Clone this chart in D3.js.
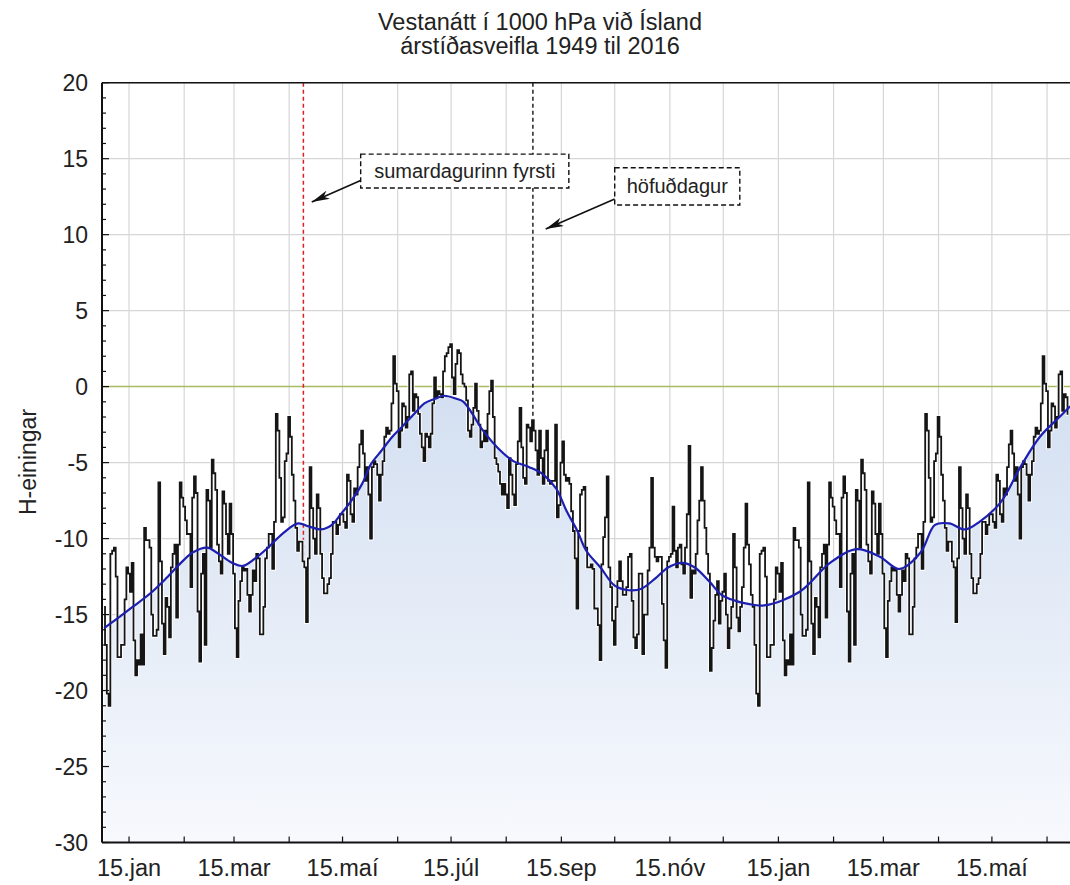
<!DOCTYPE html>
<html>
<head>
<meta charset="utf-8">
<script src="https://cdn.jsdelivr.net/npm/d3@7"></script>
<style>
  body { margin: 0; background: #fff; }
  svg { display: block; font-family: "Liberation Sans", Arial, sans-serif; }
</style>
</head>
<body>
<svg id="chart" width="1070" height="885"></svg>
<script>
// titles and labels
const titleLines = ["Vestanátt í 1000 hPa við Ísland", "árstíðasveifla 1949 til 2016"]
const yTitle = "H-einingar"
const monthNames = ["jan","feb","mar","apr","maí","jún","júl","ágú","sep","okt","nóv","des"]
const yTicks = [20, 15, 10, 5, 0, -5, -10, -15, -20, -25, -30]

// daily mean for one year (day 0 = 1. jan)
const dailyValues = [
  -14.5, -17, -20.2, -21, -11, -10.8, -10.6, -12.5, -17.8, -17.8,
  -17, -17, -14, -11.9, -12.3, -13.5, -11.6, -16.7, -19, -18,
  -18.3, -16.3, -18.3, -9.3, -10.1, -10.1, -10.6, -15, -16.4, -16.4,
  -16, -6.3, -11.5, -15.6, -17.6, -13.9, -14.5, -16.5, -11.9, -11,
  -10.4, -15.2, -10.4, -6.3, -7.3, -7.9, -8.8, -9.7, -9.7, -13.2,
  -7.3, -5.9, -7, -14.8, -18.1, -12.3, -11, -17, -6.8, -7.5,
  -10.6, -4.8, -5.7, -6.8, -10.4, -11.5, -12.3, -6.9, -7.7, -9.7,
  -11, -7.7, -9.7, -12.3, -15.9, -17.8, -14.1, -12.8, -11.9, -12.1,
  -12, -13.7, -14.8, -13.7, -12.1, -12.8, -11, -11.3, -16.3, -16.3,
  -14.5, -11.3, -10.6, -9.7,
  -9.7, -12, -8.9, -1.8, -2.9, -6, -8.9, -8.6, -4.9, -4.4,
  -2, -3.3, -5.8, -7.5, -9.3, -10.8, -10.2, -10.2, -11.5, -11.9,
  -15.5, -11.3, -5.3, -8, -10, -11, -7.1,
  -8, -11, -12.6, -13.6, -13.6, -13, -12.6, -11, -8.9, -8.9,
  -9.7, -9.1, -8.4, -8.4, -8.9, -9.3, -5.8, -6.2, -8.4, -8.9,
  -6.7, -7.1, -5.3, -3.8, -2.9, -4.4, -6.2, -5.3, -7.1, -10,
  -5.3, -4.9, -5.1, -5.8, -7.5, -5.8, -4.9, -3.3, -2.7, -3.1,
  -2.9, -1.1, 2, 0.2, -0.3, -4, -2.9, -1.1, -1.3, -2.7,
  -2, 0.8, 1, -1.6, -0.5, -0.7, -1.8, -3.1, -4, -4.9,
  -3.1, -3.3, -4, -3.1, -1.1,
  0.6, -0.7, -0.3, -0.5, -0.7, 1.0, 2.0, 2.2, 2.6, 2.8,
  0.6, -0.5, 1.5, 2.4, 2.2, 0.8, 0.2, 0, -0.9, -2.9,
  -3.3, -2.5, -1.4, 0.2, -1.6, -2.5, -4, -3.6, -2.9, -3.6,
  -1.8, -0.3, 0.4, -2, -4.7, -5.1, -5.6, -6.4, -7.1, -6.4,
  -7.1, -8, -4.7, -5.8, -7.1, -7.8, -5.1, -3.6, -1.4, -4,
  -6, -6.4, -2.5, -2.7, -3.6, -2.2, -2.9, -4.2, -5.8, -2.9,
  -4.7, -6.4, -4.2, -2.9, -6.2, -6.4, -6.2, -6.2, -2.5, -8.6,
  -7.8, -5, -3.6, -5.8, -6.2, -6, -6.4, -8.2, -9.5, -11.3,
  -14.6, -9.5, -7.1, -6.8, -6.6, -10.6, -11.9, -11.9, -11.7, -12,
  -14.6, -14.6, -15.7,
  -18, -11.7, -9.9, -8.6, -5.9, -11.9, -13.2, -15.4, -17, -14.5,
  -12.8, -11.5, -12.8, -13.7, -13.7, -13.2, -11.2, -11, -14.1, -16.5,
  -17.2, -16.3, -12.3, -12.3, -17.6, -15, -15, -12.1, -10.6, -6,
  -10.6, -11.2, -11.5, -11.2, -11.2, -14.3, -16.7, -18.5, -11.5, -11.2,
  -11, -7.9, -10.8, -11.9, -10.6, -10.4, -11.7, -12.3, -10.6, -8.4,
  -3.9, -13.9, -12.1, -12.3, -11, -8.8, -7.5, -5.3, -7.5, -9.3,
  -11, -12.3, -18.7, -17.2, -15.4, -13.7, -12.8, -15.6, -14.1, -13.5,
  -12.3, -15, -17.2, -15.9, -14.5, -9.7, -11.9, -15.2, -16.1, -14.5,
  -13.2, -10.6, -7.7, -10.4, -11.7, -13.7
]

// smoothed curve (blue), day index counted from 1. jan of the first year
const smoothDays = [0, 16, 26, 35, 44, 50, 58, 63, 72, 78, 86, 93, 100, 109, 115, 122, 128, 133, 139, 145,
  150, 156, 162, 167, 175, 180, 186, 191, 198, 202, 207, 213, 221, 230, 239, 247, 254, 260, 266, 271,
  279, 287, 295, 302, 310, 317, 325, 332, 340, 347, 355, 362, 371, 391, 408, 423, 436, 447, 459, 467,
  475, 484, 492, 504, 515, 526, 537, 543]
const smoothValues = [-15.9, -14.5, -13.6, -12.6, -11.5, -10.9, -10.6, -10.9, -11.6, -11.8, -11.2, -10.5, -9.7, -9.0, -9.2, -9.4, -9.1, -8.4, -7.5, -6.4,
  -5.1, -4.2, -3.3, -2.7, -1.7, -1.1, -0.8, -0.6, -0.8, -1.0, -1.8, -2.9, -4.0, -4.9, -5.3, -5.8, -6.7, -8.2, -9.5, -10.8,
  -11.9, -13.1, -13.4, -13.3, -12.6, -11.9, -11.6, -11.9, -12.8, -13.7, -14.1, -14.3, -14.4, -13.5, -11.6, -10.7, -11.2, -12.0, -10.9, -9.1,
  -9.0, -9.4, -8.9, -7.6, -5.3, -3.3, -2.0, -1.3]

// marked days: sumardagurinn fyrsti (23. apr) and höfuðdagur (29. ágú)
const markerDays = [112, 241]
const markerColors = ["#dd1f1f", "#222"]

// annotation boxes, in data units (day, value)
const notes = [
  {text: "sumardagurinn fyrsti", x0: 144.2, x1: 261.2, y0: 15.3, y1: 13.07, tail: [144.8, 13.6], tip: [116.7, 12.15]},
  {text: "höfuðdagur", x0: 287.0, x1: 357.3, y0: 14.4, y1: 11.95, tail: [287.0, 12.35], tip: [248.2, 10.37]}
]

const lastDay = 542
const base = new Date(2001, 0, 1)

const svg = d3.select("#chart")
const plotLeft = 102, plotRight = 1070, plotTop = 82.7, plotBottom = 842.5

const x = d3.scaleLinear().domain([-1.2, 542.9]).range([plotLeft, plotRight])
const y = d3.scaleLinear().domain([-30, 20]).range([plotBottom, plotTop])

// 15th of every month shown
const monthTicks = d3.timeMonth.range(new Date(2001, 0, 1), new Date(2002, 6, 1))
  .map(m => ({day: d3.timeDay.count(base, new Date(m.getFullYear(), m.getMonth(), 15)), month: m.getMonth()}))

// gradient for the fill under the smooth curve
const defs = svg.append("defs")
const grad = defs.append("linearGradient").attr("id", "fillGrad")
  .attr("gradientUnits", "userSpaceOnUse").attr("x1", 0).attr("x2", 0).attr("y1", y(0)).attr("y2", plotBottom)
grad.append("stop").attr("offset", 0).attr("stop-color", "#d3dff1")
grad.append("stop").attr("offset", 1).attr("stop-color", "#f7f9fd")

defs.append("marker").attr("id", "arrow").attr("viewBox", "0 0 18 9")
  .attr("refX", 18).attr("refY", 4.5).attr("markerWidth", 18).attr("markerHeight", 9)
  .attr("markerUnits", "userSpaceOnUse").attr("orient", "auto")
  .append("path").attr("d", "M0,0 L18,4.5 L0,9 L5,4.5 Z").attr("fill", "#111")

defs.append("clipPath").attr("id", "plotClip").append("rect")
  .attr("x", plotLeft).attr("y", plotTop).attr("width", plotRight - plotLeft).attr("height", plotBottom - plotTop)

// grid
const grid = svg.append("g")
grid.selectAll(".vg").data(monthTicks).enter().append("line")
  .attr("x1", d => x(d.day)).attr("x2", d => x(d.day)).attr("y1", plotTop).attr("y2", plotBottom)
  .attr("stroke", "#d6d6d6").attr("stroke-width", 1.2)
grid.selectAll(".hg").data(yTicks.filter(v => v !== 0)).enter().append("line")
  .attr("x1", plotLeft).attr("x2", plotRight).attr("y1", d => y(d)).attr("y2", d => y(d))
  .attr("stroke", "#d6d6d6").attr("stroke-width", 1.2)

const plot = svg.append("g").attr("clip-path", "url(#plotClip)")

// fill under the smooth curve
const smooth = smoothDays.map((d, i) => ({day: d, v: smoothValues[i]}))
plot.append("path").datum(smooth)
  .attr("d", d3.area().x(d => x(d.day)).y0(plotBottom).y1(d => y(d.v)).curve(d3.curveCatmullRom.alpha(0.5)))
  .attr("fill", "url(#fillGrad)")

// zero line
plot.append("line").attr("x1", plotLeft).attr("x2", plotRight).attr("y1", y(0)).attr("y2", y(0))
  .attr("stroke", "#a9bb5e").attr("stroke-width", 1.5)

// daily series repeated over 18 months
const series = d3.range(0, lastDay + 1).map(d => ({day: d, v: dailyValues[d % dailyValues.length]}))

// vertical marker lines down to the series value
plot.selectAll(".marker").data(markerDays).enter().append("line")
  .attr("x1", d => x(d)).attr("x2", d => x(d)).attr("y1", plotTop).attr("y2", d => y(dailyValues[d]))
  .attr("stroke", (d, i) => markerColors[i]).attr("stroke-width", 1.5).attr("stroke-dasharray", "4,3")

const stepLine = d3.line().x(d => x(d.day)).y(d => y(d.v)).curve(d3.curveStep)
plot.append("path").datum(series).attr("d", stepLine)
  .attr("fill", "none").attr("stroke", "#fff").attr("stroke-width", 3.6)
plot.append("path").datum(series).attr("d", stepLine)
  .attr("fill", "none").attr("stroke", "#151515").attr("stroke-width", 1.8)

// smooth curve
plot.append("path").datum(smooth)
  .attr("d", d3.line().x(d => x(d.day)).y(d => y(d.v)).curve(d3.curveCatmullRom.alpha(0.5)))
  .attr("fill", "none").attr("stroke", "#1c1fb0").attr("stroke-width", 2.2)

// annotations
notes.forEach(n => {
  svg.append("line")
    .attr("x1", x(n.tail[0])).attr("y1", y(n.tail[1])).attr("x2", x(n.tip[0])).attr("y2", y(n.tip[1]))
    .attr("stroke", "#111").attr("stroke-width", 1.6).attr("marker-end", "url(#arrow)")
  svg.append("rect")
    .attr("x", x(n.x0)).attr("y", y(n.y0)).attr("width", x(n.x1) - x(n.x0)).attr("height", y(n.y1) - y(n.y0))
    .attr("fill", "#fff").attr("stroke", "#111").attr("stroke-width", 1.4).attr("stroke-dasharray", "5,3")
  svg.append("text")
    .attr("x", (x(n.x0) + x(n.x1)) / 2).attr("y", (y(n.y0) + y(n.y1)) / 2).attr("dy", "0.35em")
    .attr("text-anchor", "middle").attr("font-size", 20).attr("fill", "#222").text(n.text)
})

// axes frame
svg.append("line").attr("x1", plotLeft).attr("x2", plotRight).attr("y1", plotTop).attr("y2", plotTop)
  .attr("stroke", "#111").attr("stroke-width", 1.5)
svg.append("line").attr("x1", plotLeft).attr("x2", plotLeft).attr("y1", plotTop).attr("y2", plotBottom)
  .attr("stroke", "#111").attr("stroke-width", 2)
svg.append("line").attr("x1", plotLeft).attr("x2", plotRight).attr("y1", plotBottom).attr("y2", plotBottom)
  .attr("stroke", "#111").attr("stroke-width", 2)

// y ticks (inward), minor every 1
svg.selectAll(".ymin").data(d3.range(-30, 21)).enter().append("line")
  .attr("x1", plotLeft).attr("x2", d => plotLeft + (d % 5 === 0 ? 7 : 4))
  .attr("y1", d => y(d)).attr("y2", d => y(d)).attr("stroke", "#111").attr("stroke-width", 1.2)
svg.selectAll(".ylab").data(yTicks).enter().append("text")
  .attr("x", plotLeft - 14).attr("y", d => y(d)).attr("dy", "0.35em").attr("text-anchor", "end")
  .attr("font-size", 23).attr("fill", "#222").text(d => d)

// x ticks (inward) and labels on odd months
svg.selectAll(".xt").data(monthTicks).enter().append("line")
  .attr("x1", d => x(d.day)).attr("x2", d => x(d.day)).attr("y1", plotBottom).attr("y2", plotBottom - 6)
  .attr("stroke", "#111").attr("stroke-width", 1.2)
svg.selectAll(".xlab").data(monthTicks.filter(d => d.month % 2 === 0)).enter().append("text")
  .attr("x", d => x(d.day)).attr("y", 876).attr("text-anchor", "middle")
  .attr("font-size", 23.5).attr("fill", "#222").text(d => "15." + monthNames[d.month])

// titles
svg.selectAll(".title").data(titleLines).enter().append("text")
  .attr("x", 540).attr("y", (d, i) => 30 + i * 24).attr("text-anchor", "middle")
  .attr("font-size", 23.5).attr("fill", "#222").text(d => d)
svg.append("text").attr("transform", `translate(36,462) rotate(-90)`)
  .attr("text-anchor", "middle").attr("font-size", 23).attr("fill", "#222").text(yTitle)
</script>
</body>
</html>
